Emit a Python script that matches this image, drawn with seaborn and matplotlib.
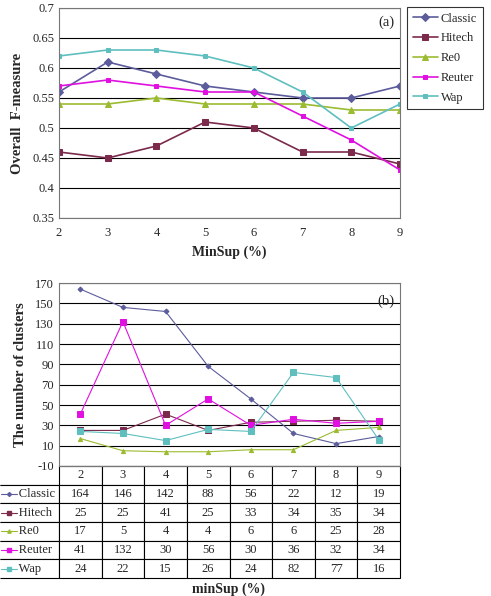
import matplotlib
matplotlib.use("Agg")
import matplotlib.pyplot as plt
import pandas as pd
import seaborn as sns

sns.set_style("white")
plt.rcParams['font.family'] = ['Liberation Serif', 'DejaVu Serif']
plt.rcParams['axes.unicode_minus'] = False

minsup = [2, 3, 4, 5, 6, 7, 8, 9]
names = ["Classic", "Hitech", "Re0", "Reuter", "Wap"]

# (a) overall F-measure
fm_classic = [0.56, 0.61, 0.59, 0.57, 0.56, 0.55, 0.55, 0.57]
fm_hitech = [0.46, 0.45, 0.47, 0.51, 0.50, 0.46, 0.46, 0.44]
fm_re0 = [0.54, 0.54, 0.55, 0.54, 0.54, 0.54, 0.53, 0.53]
fm_reuter = [0.57, 0.58, 0.57, 0.56, 0.56, 0.52, 0.48, 0.43]
fm_wap = [0.62, 0.63, 0.63, 0.62, 0.60, 0.56, 0.50, 0.54]

# (b) number of clusters
nc_classic = [164, 146, 142, 88, 56, 22, 12, 19]
nc_hitech = [25, 25, 41, 25, 33, 34, 35, 34]
nc_re0 = [17, 5, 4, 4, 6, 6, 25, 28]
nc_reuter = [41, 132, 30, 56, 30, 36, 32, 34]
nc_wap = [24, 22, 15, 26, 24, 82, 77, 16]

colors = {"Classic": "#5c5c9c", "Hitech": "#7b2a4c", "Re0": "#9bbb30",
          "Reuter": "#e010e0", "Wap": "#5fbfbf"}
markers = {"Classic": "D", "Hitech": "s", "Re0": "^", "Reuter": "s", "Wap": "s"}
msize_a = {"Classic": 4.5, "Hitech": 4.5, "Re0": 5, "Reuter": 3.5, "Wap": 3.5}
msize_b = {"Classic": 2.5, "Hitech": 4, "Re0": 3, "Reuter": 4, "Wap": 4}

fm = dict(zip(names, [fm_classic, fm_hitech, fm_re0, fm_reuter, fm_wap]))
nc = dict(zip(names, [nc_classic, nc_hitech, nc_re0, nc_reuter, nc_wap]))

W, H = 491, 596
fig = plt.figure(figsize=(W / 100, H / 100), dpi=100)

def fbox(x0, y0, x1, y1):
    return [x0 / W, 1 - y1 / H, (x1 - x0) / W, (y1 - y0) / H]

# ---- top chart
ax1 = fig.add_axes(fbox(59, 8, 400, 218))
for n in names:
    df = pd.DataFrame({"x": minsup, "y": fm[n]})
    sns.lineplot(data=df, x="x", y="y", ax=ax1, color=colors[n], marker=markers[n],
                 markersize=msize_a[n], markeredgecolor=colors[n], linewidth=1.2, label=n)
ax1.set_xlim(2, 9)
ax1.set_ylim(0.35, 0.7)
ax1.set_yticks([0.35, 0.4, 0.45, 0.5, 0.55, 0.6, 0.65, 0.7])
ax1.set_yticklabels(["0.35", "0.4", "0.45", "0.5", "0.55", "0.6", "0.65", "0.7"])
ax1.set_xticks(minsup)
ax1.yaxis.grid(True, color="black", linewidth=0.8)
ax1.set_axisbelow(True)
ax1.tick_params(labelsize=9, length=3, direction="out", color="black")
ax1.tick_params(axis="y", length=0)
for s in ax1.spines.values():
    s.set_color("#777777")
    s.set_linewidth(0.8)
ax1.set_xlabel("")
ax1.set_ylabel("Overall  F-measure", fontsize=10.5, fontweight="bold", labelpad=6)
ax1.text(0.985, 0.93, "(a)", transform=ax1.transAxes, ha="right", va="center", fontsize=10.5)
leg = ax1.legend(loc="upper left", bbox_to_anchor=(407 / W, 1 - 7 / H),
                 bbox_transform=fig.transFigure, fontsize=9, frameon=True,
                 fancybox=False, borderpad=0.45, labelspacing=0.62,
                 handlelength=2.0, handletextpad=0.25, borderaxespad=0)
leg.get_frame().set_edgecolor("black")
leg.get_frame().set_linewidth(0.8)
fig.text(229 / W, 1 - 252 / H, "MinSup (%)", ha="center", va="center",
         fontsize=10, fontweight="bold")

# ---- bottom chart
ax2 = fig.add_axes(fbox(59, 283, 400, 466))
pos = list(range(len(minsup)))
for n in names:
    df = pd.DataFrame({"x": pos, "y": nc[n]})
    sns.lineplot(data=df, x="x", y="y", ax=ax2, color=colors[n], marker=markers[n],
                 markersize=msize_b[n], markeredgecolor=colors[n], linewidth=0.8,
                 legend=False)
ax2.set_xlim(-0.5, 7.5)
ax2.set_ylim(-10, 170)
ax2.set_yticks(range(-10, 171, 20))
ax2.set_xticks([])
ax2.yaxis.grid(True, color="black", linewidth=0.8)
ax2.set_axisbelow(True)
ax2.tick_params(labelsize=9, length=0)
for s in ax2.spines.values():
    s.set_color("#777777")
    s.set_linewidth(0.8)
ax2.set_xlabel("")
ax2.set_ylabel("The number of clusters", fontsize=10.5, fontweight="bold", labelpad=6)
ax2.text(0.985, 0.9, "(b)", transform=ax2.transAxes, ha="right", va="center", fontsize=10.5)

# data table below
ax_w = 341.0
ax_h = 183.0
tab_h = 112.0
label_w = 59.0
cells = [[""] + [str(v) for v in minsup]]
for n in names:
    cells.append(["      " + n] + [str(v) for v in nc[n]])
col_w = [label_w / ax_w] + [1.0 / len(minsup)] * len(minsup)
tab = ax2.table(cellText=cells, colWidths=col_w, cellLoc="center",
                bbox=[-label_w / ax_w, -tab_h / ax_h, 1 + label_w / ax_w, tab_h / ax_h])
tab.auto_set_font_size(False)
tab.set_fontsize(9)
for (r, c), cell in tab.get_celld().items():
    cell.set_linewidth(0.8)
    cell.set_edgecolor("black")
    if c == 0:
        cell.set_text_props(ha="left")
        cell._loc = "left"
        cell.PAD = 0.0
        cell.visible_edges = "B" if r == 0 else "BTR"

# little legend keys inside the row label cells
nrow = len(names) + 1
for i, n in enumerate(names):
    yc = -tab_h / ax_h * (i + 1.5) / nrow
    ax2.plot([-label_w / ax_w + 0.003, -label_w / ax_w + 0.05], [yc, yc],
             transform=ax2.transAxes, clip_on=False, color=colors[n], linewidth=0.8)
    ax2.plot([-label_w / ax_w + 0.027], [yc], transform=ax2.transAxes, clip_on=False,
             color=colors[n], marker=markers[n], markersize=msize_b[n] * 0.8)

fig.text(229 / W, 1 - 589 / H, "minSup (%)", ha="center", va="center",
         fontsize=10, fontweight="bold")

fig.savefig("out.png", dpi=100)
